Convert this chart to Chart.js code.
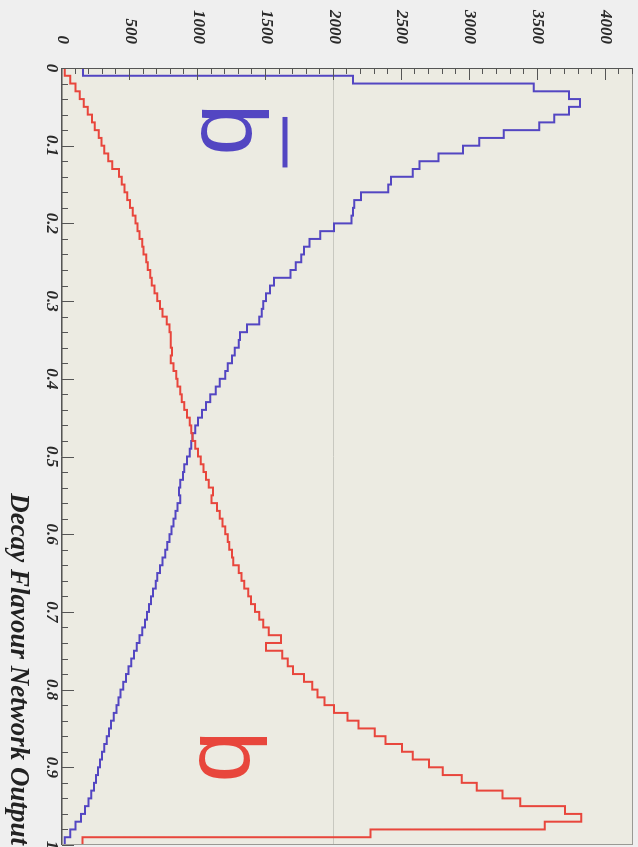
<!DOCTYPE html>
<html>
<head>
<meta charset="utf-8">
<script src="https://cdn.jsdelivr.net/npm/chart.js@4/dist/chart.umd.min.js"></script>
<style>
  html, body { margin: 0; padding: 0; background: #efefef; overflow: hidden; }
  /* chart is drawn landscape, then turned a quarter clockwise */
  #wrap { position: absolute; left: -105px; top: 105px; width: 848px; height: 638px; transform: rotate(90deg); }
</style>
</head>
<body>
<div id="wrap"><canvas id="c"></canvas></div>
<script>
// ========= Data =========
const binWidth = 0.01;
// b (red), one value per bin from 0 to 1
const bValues = [
  20, 60, 100, 130, 160, 190, 220, 240, 270, 290,
  310, 340, 370, 420, 440, 460, 480, 500, 520, 540,
  555, 570, 590, 600, 620, 630, 650, 660, 680, 700,
  720, 740, 770, 790, 800, 800, 810, 800, 820, 840,
  850, 870, 880, 900, 920, 940, 950, 960, 980, 1000,
  1020, 1040, 1060, 1080, 1110, 1100, 1140, 1160, 1180, 1200,
  1220, 1230, 1250, 1260, 1300, 1320, 1340, 1370, 1390, 1420,
  1450, 1480, 1520, 1610, 1500, 1620, 1660, 1700, 1780, 1840,
  1880, 1930, 2000, 2100, 2180, 2300, 2380, 2500, 2580, 2700,
  2800, 2940, 3050, 3240, 3370, 3700, 3820, 3550, 2270, 150
];
// b-bar (blue)
const bbarValues = [
  155, 2140, 3470, 3730, 3810, 3730, 3620, 3510, 3250, 3070,
  2950, 2770, 2630, 2580, 2420, 2400, 2200, 2150, 2140, 2130,
  2000, 1900, 1820, 1780, 1760, 1720, 1680, 1560, 1530, 1500,
  1480, 1470, 1450, 1360, 1310, 1300, 1270, 1250, 1220, 1200,
  1160, 1130, 1090, 1060, 1030, 1000, 980, 960, 950, 940,
  920, 900, 890, 870, 860, 870, 850, 835, 820, 805,
  790, 775, 760, 740, 720, 700, 690, 670, 655, 640,
  625, 610, 590, 570, 550, 530, 510, 490, 470, 450,
  430, 415, 400, 380, 360, 345, 330, 310, 295, 280,
  265, 250, 235, 215, 195, 170, 140, 100, 60, 20
];
const xTickLabels = ["0", "0.1", "0.2", "0.3", "0.4", "0.5", "0.6", "0.7", "0.8", "0.9", "1"];
const yTickLabels = ["0", "500", "1000", "1500", "2000", "2500", "3000", "3500", "4000"];

// step points at bin edges (last bin closed at x = 1)
function histPoints(vals) {
  const pts = vals.map((v, i) => ({ x: i * binWidth, y: v }));
  pts.push({ x: vals.length * binWidth, y: vals[vals.length - 1] });
  return pts;
}

const RED = "#e8463c";
const BLUE = "#5346c2";
const labelFont = { family: "'Liberation Serif', serif", size: 17, style: "italic", weight: "bold" };

// no extra room around the axes, the frame fills the page
function noPad(s) {
  s.paddingTop = 0; s.paddingBottom = 0; s.paddingLeft = 0; s.paddingRight = 0;
}

/* ========= Frame, ticks, b / b-bar labels ========= */
const framePlugin = {
  id: "frame",
  beforeDraw(chart) {
    const { ctx, chartArea: a } = chart;
    ctx.save();
    ctx.fillStyle = "#efefef";
    ctx.fillRect(0, 0, chart.width, chart.height);
    ctx.fillStyle = "#ecebe2";
    ctx.fillRect(a.left, a.top, a.right - a.left, a.bottom - a.top);
    ctx.restore();
  },
  afterDatasetsDraw(chart) {
    const { ctx, chartArea: a, scales } = chart;
    const xs = scales.x, ys = scales.y;
    ctx.save();
    // border
    ctx.strokeStyle = "#9a9a94";
    ctx.lineWidth = 1;
    ctx.strokeRect(a.left + 0.5, a.top + 0.5, a.right - a.left - 1, a.bottom - a.top - 1);
    // axes
    ctx.strokeStyle = "#555";
    ctx.beginPath();
    ctx.moveTo(a.left + 0.5, a.top);
    ctx.lineTo(a.left + 0.5, a.bottom + 0.5);
    ctx.lineTo(a.right, a.bottom + 0.5);
    ctx.stroke();
    // inward ticks, ROOT style
    ctx.beginPath();
    for (let k = 0; k <= 50; k++) {
      const px = Math.round(xs.getPixelForValue(k / 50)) + 0.5;
      const len = k % 5 === 0 ? 12 : 6;
      ctx.moveTo(px, a.bottom);
      ctx.lineTo(px, a.bottom - len);
    }
    for (let k = 0; k <= 42; k++) {
      const py = Math.round(ys.getPixelForValue(k * 100)) + 0.5;
      const len = k % 5 === 0 ? 12 : 6;
      ctx.moveTo(a.left, py);
      ctx.lineTo(a.left + len, py);
    }
    ctx.stroke();

    // big b labels
    ctx.font = "93px 'Liberation Sans', sans-serif";
    ctx.textAlign = "left";
    ctx.textBaseline = "alphabetic";
    ctx.fillStyle = RED;
    ctx.fillText("b", xs.getPixelForValue(0.853), ys.getPixelForValue(1015));
    ctx.fillStyle = BLUE;
    ctx.fillText("b", xs.getPixelForValue(0.046), ys.getPixelForValue(1032));
    // overline of b-bar
    ctx.strokeStyle = BLUE;
    ctx.lineWidth = 5;
    ctx.beginPath();
    ctx.moveTo(xs.getPixelForValue(0.063), ys.getPixelForValue(1640));
    ctx.lineTo(xs.getPixelForValue(0.128), ys.getPixelForValue(1640));
    ctx.stroke();
    ctx.restore();
  }
};

new Chart(document.getElementById("c"), {
  type: "line",
  data: {
    datasets: [
      {
        label: "b",
        data: histPoints(bValues),
        borderColor: RED,
        borderWidth: 2,
        stepped: "before",
        pointRadius: 0,
        fill: false
      },
      {
        label: "bbar",
        data: histPoints(bbarValues),
        borderColor: BLUE,
        borderWidth: 2,
        stepped: "before",
        pointRadius: 0,
        fill: false
      }
    ]
  },
  options: {
    responsive: true,
    maintainAspectRatio: false,
    animation: false,
    layout: { padding: { top: 5, right: 3, left: 0, bottom: 0 } },
    plugins: { legend: { display: false }, tooltip: { enabled: false } },
    scales: {
      x: {
        type: "linear",
        min: 0,
        max: 1,
        afterFit: (s) => { s.height = 62; noPad(s); },
        afterBuildTicks: (s) => { s.ticks = xTickLabels.map((t) => ({ value: Number(t) })); },
        ticks: {
          autoSkip: false,
          maxRotation: 0,
          padding: 0,
          color: "#2a2a2a",
          font: labelFont,
          callback: (v, i) => xTickLabels[i]
        },
        grid: { display: false, drawTicks: false },
        border: { display: false },
        title: {
          display: true,
          text: "Decay Flavour Network Output",
          align: "end",
          color: "#222",
          padding: { top: 0, bottom: 2 },
          font: { family: "'Liberation Serif', serif", size: 27, style: "italic", weight: "bold" }
        }
      },
      y: {
        min: 0,
        max: 4200,
        afterFit: (s) => { s.width = 68; noPad(s); },
        afterBuildTicks: (s) => { s.ticks = yTickLabels.map((t) => ({ value: Number(t) })); },
        ticks: {
          padding: 24,
          color: "#2a2a2a",
          font: labelFont,
          callback: (v, i) => yTickLabels[i]
        },
        grid: {
          drawTicks: false,
          color: (c) => (c.tick && c.tick.value === 2000 ? "#c8c8c0" : "rgba(0,0,0,0)")
        },
        border: { display: false }
      }
    }
  },
  plugins: [framePlugin]
});
</script>
</body>
</html>
